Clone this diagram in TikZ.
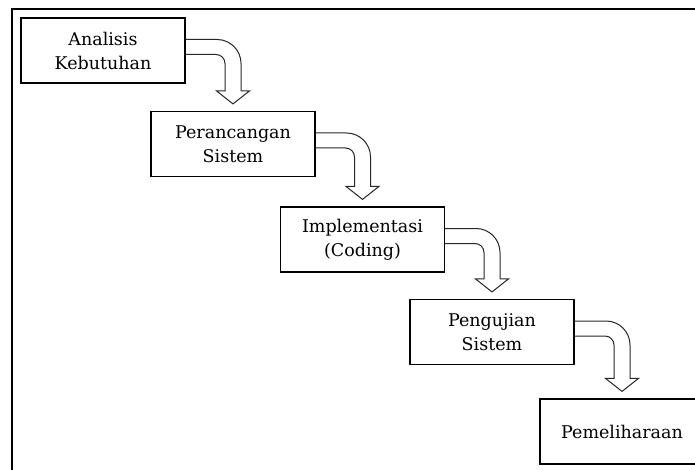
\documentclass[tikz,border=0pt]{standalone}
\usepackage{fontspec}
\setmainfont{DejaVu Serif}
\usetikzlibrary{calc}

\tikzset{
  stage/.style={draw,line width=1.2pt,minimum width=164pt,minimum height=65pt,inner sep=0pt,
    align=center,font=\fontsize{17.5}{24}\selectfont},
  flowarrow/.style={draw=black!85,line width=1pt,line join=miter}
}
% block arrow from the right side of #1 down onto #2
\newcommand{\stagearrow}[2]{%
  \draw[flowarrow] ($(#1.east)+(0,11)$) -- ($(#2.north |- #1.east)+(-16,11)$)
    arc[start angle=90,end angle=0,radius=24] -- ($(#2.north)+(8,20)$)
    -- ++(8.5,0) -- ($(#2.north)+(0,7)$) -- ++(-16.5,13) -- ++(8.5,0)
    -- ($(#2.north |- #1.east)+(-8,-13)$) arc[start angle=0,end angle=90,radius=9]
    -- ($(#1.east)+(0,-4)$);
}

\begin{document}
\begin{tikzpicture}[x=1pt,y=1pt]
  \clip (0,0) rectangle (695,-470);
  \draw[line width=2.2pt] (12,-9) rectangle (720,-490);
  \node[stage] (analisis) at (103,-50.5) {Analisis\\Kebutuhan};
  \node[stage] (rancang) at (233,-144) {Perancangan\\Sistem};
  \node[stage] (impl) at (362.5,-239.5) {Implementasi\\(Coding)};
  \node[stage] (uji) at (492,-332) {Pengujian\\Sistem};
  \node[stage] (pelihara) at (622,-431.5) {Pemeliharaan};
  \stagearrow{analisis}{rancang}
  \stagearrow{rancang}{impl}
  \stagearrow{impl}{uji}
  \stagearrow{uji}{pelihara}
\end{tikzpicture}
\end{document}
